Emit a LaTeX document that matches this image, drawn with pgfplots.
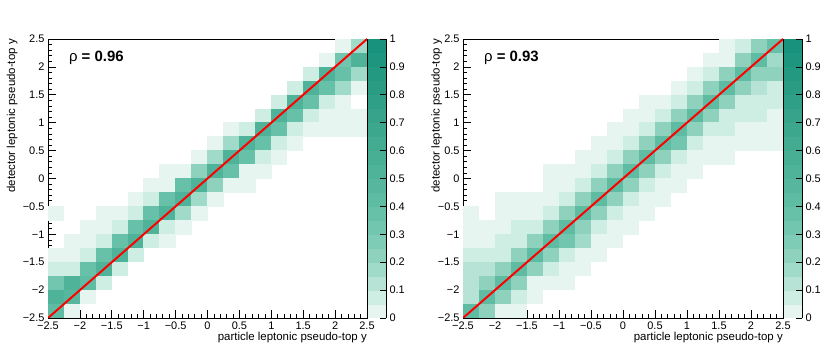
\documentclass[border=0pt]{standalone}
\usepackage{fontspec}
\setmainfont{Liberation Sans}
\usepackage{pgfplots}
\pgfplotsset{compat=1.18}

% one filled cell per bin (bins are 0.25 x 0.25)
\pgfdeclareplotmark{cellA}{\pgfpathrectangle{\pgfpoint{-8.2bp}{-7.2bp}}{\pgfpoint{16.4bp}{14.4bp}}\pgfusepathqfill}
\pgfdeclareplotmark{cellB}{\pgfpathrectangle{\pgfpoint{-8.25bp}{-7.2bp}}{\pgfpoint{16.5bp}{14.4bp}}\pgfusepathqfill}

\pgfplotsset{
  resp/.style={
    clip marker paths=true,
    scale only axis,
    height=279bp,
    xmin=-2.5, xmax=2.5, ymin=-2.5, ymax=2.5,
    xtick={-2.5,-2,...,2.5}, ytick={-2.5,-2,...,2.5},
    xticklabels={−2.5,−2,−1.5,−1,−0.5,0,0.5,1,1.5,2,2.5},
    yticklabels={−2.5,−2,−1.5,−1,−0.5,0,0.5,1,1.5,2,2.5},
    minor x tick num=4, minor y tick num=4,
    xtick pos=left, ytick pos=left,
    tick align=inside,
    major tick length=8bp, minor tick length=4bp,
    axis line style={line width=0.8bp},
    every tick/.style={black, line width=0.7bp},
    tick label style={font=\fontsize{11}{13}\selectfont},
    label style={font=\fontsize{11.5}{13}\selectfont},
    xlabel={particle leptonic pseudo-top y},
    x label style={at={(axis description cs:1,0)}, anchor=north east, yshift=-14bp, inner sep=0pt},
    ylabel={detector leptonic pseudo-top y},
    colormap={resp}{rgb255(0cm)=(230,245,240); rgb255(1cm)=(206,237,227); rgb255(2cm)=(182,227,213);
      rgb255(3cm)=(160,218,201); rgb255(4cm)=(142,210,190); rgb255(5cm)=(127,204,182);
      rgb255(6cm)=(114,198,175); rgb255(7cm)=(103,193,169); rgb255(8cm)=(94,188,163);
      rgb255(9cm)=(86,183,158); rgb255(10cm)=(79,179,153); rgb255(11cm)=(72,175,149);
      rgb255(12cm)=(66,171,145); rgb255(13cm)=(60,167,141); rgb255(14cm)=(54,163,138);
      rgb255(15cm)=(48,159,135); rgb255(16cm)=(42,156,132); rgb255(17cm)=(36,153,129);
      rgb255(18cm)=(30,150,127); rgb255(19cm)=(24,146,125); rgb255(20cm)=(24,146,125)},
    colormap access=piecewise constant,
    point meta min=0, point meta max=1,
    colorbar,
    colorbar style={
      at={(parent axis.north east)}, anchor=north west, xshift=-7.5bp,
      scale only axis, width=18bp,
      ytick={0,0.1,0.2,0.3,0.4,0.5,0.6,0.7,0.8,0.9,1},
      yticklabel pos=right,
      axis x line=none, axis y line*=right,
      tick align=inside, major tick length=6bp,
      axis line style={line width=0.8bp},
      every tick/.style={black, line width=0.7bp},
      tick label style={font=\fontsize{11}{13}\selectfont},
    },
  },
  bins/.style={scatter, only marks, mark=#1, point meta=explicit,
    scatter/use mapped color={fill=mapped color, draw=none}},
  diag/.style={red, line width=2bp, no marks},
}

\begin{document}
\begin{tikzpicture}[/pgf/number format/assume math mode=true]
\path[use as bounding box] (0,0) rectangle (830bp,358bp);

\begin{axis}[resp, at={(48bp,40bp)}, anchor=south west, width=319bp,
    y label style={at={(axis description cs:-0.13,1)}, anchor=north east, inner sep=0pt}]
\addplot[bins=cellA] table[x=x, y=y, meta=z, row sep=\\] {
x y z\\
2.125 2.375 0.03\\ 2.375 2.375 0.17\\
1.875 2.125 0.03\\ 2.125 2.125 0.32\\ 2.375 2.125 0.5\\
1.625 1.875 0.08\\ 1.875 1.875 0.5\\ 2.125 1.875 0.37\\ 2.375 1.875 0.17\\
1.375 1.625 0.08\\ 1.625 1.625 0.5\\ 1.875 1.625 0.37\\ 2.125 1.625 0.17\\ 2.375 1.625 0.03\\
1.125 1.375 0.08\\ 1.375 1.375 0.5\\ 1.625 1.375 0.37\\ 1.875 1.375 0.08\\ 2.125 1.375 0.03\\
0.875 1.125 0.08\\ 1.125 1.125 0.5\\ 1.375 1.125 0.37\\ 1.625 1.125 0.08\\ 1.875 1.125 0.03\\ 2.125 1.125 0.03\\ 2.375 1.125 0.03\\
0.375 0.875 0.03\\ 0.625 0.875 0.08\\ 0.875 0.875 0.5\\ 1.125 0.875 0.37\\ 1.375 0.875 0.08\\ 1.625 0.875 0.03\\ 1.875 0.875 0.03\\ 2.125 0.875 0.03\\ 2.375 0.875 0.03\\
0.125 0.625 0.03\\ 0.375 0.625 0.17\\ 0.625 0.625 0.5\\ 0.875 0.625 0.37\\ 1.125 0.625 0.08\\ 1.375 0.625 0.03\\
-0.125 0.375 0.03\\ 0.125 0.375 0.17\\ 0.375 0.375 0.5\\ 0.625 0.375 0.37\\ 0.875 0.375 0.08\\ 1.125 0.375 0.03\\
-0.625 0.125 0.03\\ -0.375 0.125 0.03\\ -0.125 0.125 0.24\\ 0.125 0.125 0.5\\ 0.375 0.125 0.37\\ 0.625 0.125 0.03\\ 0.875 0.125 0.03\\
-0.875 -0.125 0.03\\ -0.625 -0.125 0.03\\ -0.375 -0.125 0.37\\ -0.125 -0.125 0.5\\ 0.125 -0.125 0.24\\ 0.375 -0.125 0.03\\ 0.625 -0.125 0.03\\
-1.125 -0.375 0.03\\ -0.875 -0.375 0.08\\ -0.625 -0.375 0.37\\ -0.375 -0.375 0.5\\ -0.125 -0.375 0.17\\ 0.125 -0.375 0.03\\
-2.375 -0.625 0.03\\ -1.625 -0.625 0.03\\ -1.375 -0.625 0.03\\ -1.125 -0.625 0.08\\ -0.875 -0.625 0.37\\ -0.625 -0.625 0.5\\ -0.375 -0.625 0.17\\ -0.125 -0.625 0.03\\
-1.875 -0.875 0.03\\ -1.625 -0.875 0.03\\ -1.375 -0.875 0.08\\ -1.125 -0.875 0.37\\ -0.875 -0.875 0.5\\ -0.625 -0.875 0.08\\ -0.375 -0.875 0.03\\
-2.125 -1.125 0.03\\ -1.875 -1.125 0.03\\ -1.625 -1.125 0.08\\ -1.375 -1.125 0.37\\ -1.125 -1.125 0.5\\ -0.875 -1.125 0.08\\ -0.625 -1.125 0.03\\
-2.375 -1.375 0.03\\ -2.125 -1.375 0.03\\ -1.875 -1.375 0.08\\ -1.625 -1.375 0.37\\ -1.375 -1.375 0.5\\ -1.125 -1.375 0.08\\
-2.375 -1.625 0.08\\ -2.125 -1.625 0.08\\ -1.875 -1.625 0.37\\ -1.625 -1.625 0.5\\ -1.375 -1.625 0.08\\
-2.375 -1.875 0.3\\ -2.125 -1.875 0.5\\ -1.875 -1.875 0.4\\ -1.625 -1.875 0.08\\
-2.375 -2.125 0.5\\ -2.125 -2.125 0.45\\ -1.875 -2.125 0.03\\
-2.375 -2.375 0.4\\ -2.125 -2.375 0.03\\
};
\addplot[diag] coordinates {(-2.5,-2.5) (2.5,2.5)};
\node[anchor=base west, font=\fontsize{15}{18}\selectfont] at (axis description cs:0.055,0.921) {ρ \textbf{= 0.96}};
\end{axis}

\begin{axis}[resp, at={(463bp,40bp)}, anchor=south west, width=320bp,
    y label style={at={(axis description cs:-0.1,1)}, anchor=north east, inner sep=0pt}]
\addplot[bins=cellB] table[x=x, y=y, meta=z, row sep=\\] {
x y z\\
1.625 2.375 0.03\\ 1.875 2.375 0.07\\ 2.125 2.375 0.22\\ 2.375 2.375 0.38\\
1.375 2.125 0.03\\ 1.625 2.125 0.03\\ 1.875 2.125 0.22\\ 2.125 2.125 0.42\\ 2.375 2.125 0.15\\
1.125 1.875 0.03\\ 1.375 1.875 0.07\\ 1.625 1.875 0.22\\ 1.875 1.875 0.42\\ 2.125 1.875 0.22\\ 2.375 1.875 0.22\\
0.875 1.625 0.03\\ 1.125 1.625 0.07\\ 1.375 1.625 0.22\\ 1.625 1.625 0.42\\ 1.875 1.625 0.22\\ 2.125 1.625 0.12\\ 2.375 1.625 0.07\\
0.375 1.375 0.03\\ 0.625 1.375 0.03\\ 0.875 1.375 0.07\\ 1.125 1.375 0.22\\ 1.375 1.375 0.42\\ 1.625 1.375 0.22\\ 1.875 1.375 0.07\\ 2.125 1.375 0.07\\ 2.375 1.375 0.07\\
0.125 1.125 0.03\\ 0.375 1.125 0.03\\ 0.625 1.125 0.07\\ 0.875 1.125 0.22\\ 1.125 1.125 0.42\\ 1.375 1.125 0.22\\ 1.625 1.125 0.07\\ 1.875 1.125 0.07\\ 2.125 1.125 0.07\\ 2.375 1.125 0.03\\
-0.125 0.875 0.03\\ 0.125 0.875 0.03\\ 0.375 0.875 0.07\\ 0.625 0.875 0.22\\ 0.875 0.875 0.42\\ 1.125 0.875 0.22\\ 1.375 0.875 0.07\\ 1.625 0.875 0.07\\ 1.875 0.875 0.03\\ 2.125 0.875 0.03\\ 2.375 0.875 0.03\\
-0.375 0.625 0.03\\ -0.125 0.625 0.03\\ 0.125 0.625 0.07\\ 0.375 0.625 0.22\\ 0.625 0.625 0.42\\ 0.875 0.625 0.3\\ 1.125 0.625 0.07\\ 1.375 0.625 0.03\\ 1.625 0.625 0.03\\ 1.875 0.625 0.03\\ 2.125 0.625 0.03\\ 2.375 0.625 0.03\\
-0.625 0.375 0.03\\ -0.375 0.375 0.03\\ -0.125 0.375 0.07\\ 0.125 0.375 0.22\\ 0.375 0.375 0.42\\ 0.625 0.375 0.22\\ 0.875 0.375 0.07\\ 1.125 0.375 0.03\\ 1.375 0.375 0.03\\ 1.625 0.375 0.03\\
-1.125 0.125 0.03\\ -0.875 0.125 0.03\\ -0.625 0.125 0.03\\ -0.375 0.125 0.07\\ -0.125 0.125 0.22\\ 0.125 0.125 0.42\\ 0.375 0.125 0.22\\ 0.625 0.125 0.07\\ 0.875 0.125 0.03\\ 1.125 0.125 0.03\\
-1.125 -0.125 0.03\\ -0.875 -0.125 0.03\\ -0.625 -0.125 0.07\\ -0.375 -0.125 0.22\\ -0.125 -0.125 0.42\\ 0.125 -0.125 0.22\\ 0.375 -0.125 0.07\\ 0.625 -0.125 0.03\\ 0.875 -0.125 0.03\\
-1.875 -0.375 0.03\\ -1.625 -0.375 0.03\\ -1.375 -0.375 0.03\\ -1.125 -0.375 0.03\\ -0.875 -0.375 0.07\\ -0.625 -0.375 0.22\\ -0.375 -0.375 0.42\\ -0.125 -0.375 0.22\\ 0.125 -0.375 0.07\\ 0.375 -0.375 0.03\\ 0.625 -0.375 0.03\\
-2.375 -0.625 0.03\\ -1.875 -0.625 0.03\\ -1.625 -0.625 0.03\\ -1.375 -0.625 0.03\\ -1.125 -0.625 0.07\\ -0.875 -0.625 0.22\\ -0.625 -0.625 0.42\\ -0.375 -0.625 0.22\\ -0.125 -0.625 0.07\\ 0.125 -0.625 0.03\\ 0.375 -0.625 0.03\\
-2.375 -0.875 0.03\\ -2.125 -0.875 0.03\\ -1.875 -0.875 0.03\\ -1.625 -0.875 0.07\\ -1.375 -0.875 0.07\\ -1.125 -0.875 0.22\\ -0.875 -0.875 0.42\\ -0.625 -0.875 0.22\\ -0.375 -0.875 0.07\\ -0.125 -0.875 0.03\\ 0.125 -0.875 0.03\\
-2.375 -1.125 0.03\\ -2.125 -1.125 0.03\\ -1.875 -1.125 0.07\\ -1.625 -1.125 0.07\\ -1.375 -1.125 0.22\\ -1.125 -1.125 0.42\\ -0.875 -1.125 0.3\\ -0.625 -1.125 0.15\\ -0.375 -1.125 0.03\\ -0.125 -1.125 0.03\\
-2.375 -1.375 0.07\\ -2.125 -1.375 0.07\\ -1.875 -1.375 0.07\\ -1.625 -1.375 0.22\\ -1.375 -1.375 0.42\\ -1.125 -1.375 0.22\\ -0.875 -1.375 0.07\\ -0.625 -1.375 0.03\\ -0.375 -1.375 0.03\\
-2.375 -1.625 0.12\\ -2.125 -1.625 0.12\\ -1.875 -1.625 0.22\\ -1.625 -1.625 0.42\\ -1.375 -1.625 0.22\\ -1.125 -1.625 0.07\\ -0.875 -1.625 0.03\\ -0.625 -1.625 0.03\\
-2.375 -1.875 0.12\\ -2.125 -1.875 0.22\\ -1.875 -1.875 0.42\\ -1.625 -1.875 0.22\\ -1.375 -1.875 0.03\\ -1.125 -1.875 0.03\\ -0.875 -1.875 0.03\\
-2.375 -2.125 0.12\\ -2.125 -2.125 0.42\\ -1.875 -2.125 0.22\\ -1.625 -2.125 0.07\\ -1.375 -2.125 0.03\\
-2.375 -2.375 0.42\\ -2.125 -2.375 0.22\\ -1.875 -2.375 0.03\\ -1.625 -2.375 0.03\\
};
\addplot[diag] coordinates {(-2.5,-2.5) (2.5,2.5)};
\node[anchor=base west, font=\fontsize{15}{18}\selectfont] at (axis description cs:0.055,0.921) {ρ \textbf{= 0.93}};
\end{axis}
\end{tikzpicture}
\end{document}
